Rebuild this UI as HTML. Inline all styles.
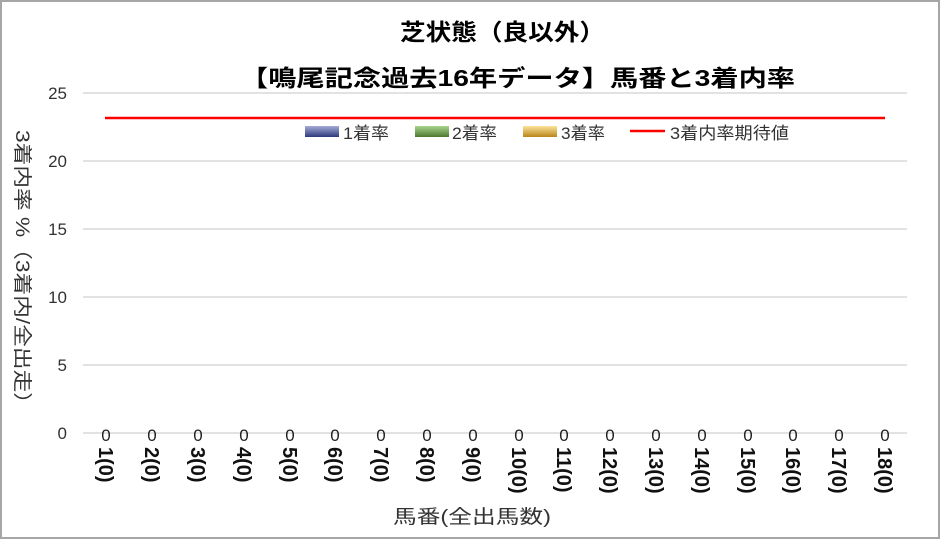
<!DOCTYPE html>
<html><head><meta charset="utf-8"><style>
body{margin:0;background:#fff}
svg{display:block;font-family:"Liberation Sans","Noto Sans CJK JP",sans-serif}
</style></head><body>
<svg width="940" height="539" viewBox="0 0 940 539">
<defs>
<linearGradient id="g1" x1="0" y1="0" x2="0" y2="1"><stop offset="0" stop-color="#a5acd8"/><stop offset="1" stop-color="#2c3a7c"/></linearGradient>
<linearGradient id="g2" x1="0" y1="0" x2="0" y2="1"><stop offset="0" stop-color="#a9d48c"/><stop offset="1" stop-color="#4e7a30"/></linearGradient>
<linearGradient id="g3" x1="0" y1="0" x2="0" y2="1"><stop offset="0" stop-color="#fde39a"/><stop offset="1" stop-color="#b8861a"/></linearGradient>
</defs>
<rect x="1" y="1" width="938" height="537" fill="#fff" stroke="#a6a6a6" stroke-width="2"/>
<text x="400" y="40" font-size="23" font-weight="bold" textLength="205" lengthAdjust="spacingAndGlyphs">芝状態（良以外）</text>
<text x="240" y="86" font-size="23" font-weight="bold" textLength="555" lengthAdjust="spacingAndGlyphs">【鳴尾記念過去16年データ】馬番と3着内率</text>
<g stroke="#d9d9d9" stroke-width="1.5">
<line x1="83" y1="93" x2="907" y2="93"/><line x1="83" y1="161" x2="907" y2="161"/>
<line x1="83" y1="229" x2="907" y2="229"/><line x1="83" y1="297" x2="907" y2="297"/>
<line x1="83" y1="365" x2="907" y2="365"/><line x1="83" y1="433" x2="907" y2="433"/>
</g>
<g font-size="17" fill="#333" text-anchor="end">
<text x="67" y="99">25</text><text x="67" y="167">20</text><text x="67" y="235">15</text>
<text x="67" y="303">10</text><text x="67" y="371">5</text><text x="67" y="439">0</text>
</g>
<line x1="105" y1="118" x2="885" y2="118" stroke="#ff0000" stroke-width="2.5"/>
<rect x="305" y="126" width="34" height="11" fill="url(#g1)"/>
<text x="343" y="139" font-size="17" fill="#333" textLength="46" lengthAdjust="spacingAndGlyphs">1着率</text>
<rect x="415" y="126" width="34" height="11" fill="url(#g2)"/>
<text x="452" y="139" font-size="17" fill="#333" textLength="45" lengthAdjust="spacingAndGlyphs">2着率</text>
<rect x="523" y="126" width="34" height="11" fill="url(#g3)"/>
<text x="561" y="139" font-size="17" fill="#333" textLength="44" lengthAdjust="spacingAndGlyphs">3着率</text>
<line x1="630" y1="131" x2="665" y2="131" stroke="#ff0000" stroke-width="2.5"/>
<text x="670" y="139" font-size="17" fill="#333" textLength="119" lengthAdjust="spacingAndGlyphs">3着内率期待値</text>
<text transform="translate(16,130) rotate(90)" font-size="19" fill="#333" textLength="285" lengthAdjust="spacingAndGlyphs">3着内率 %（3着内/全出走）</text>
<g font-size="17" fill="#222" text-anchor="middle">
<text x="106" y="441">0</text><text x="152" y="441">0</text><text x="198" y="441">0</text><text x="244" y="441">0</text><text x="290" y="441">0</text><text x="335" y="441">0</text><text x="381" y="441">0</text><text x="427" y="441">0</text><text x="473" y="441">0</text><text x="519" y="441">0</text><text x="564" y="441">0</text><text x="610" y="441">0</text><text x="656" y="441">0</text><text x="702" y="441">0</text><text x="748" y="441">0</text><text x="793" y="441">0</text><text x="839" y="441">0</text><text x="885" y="441">0</text>
</g>
<g font-size="20" font-weight="bold" fill="#111">
<text transform="translate(99,447) rotate(90)">1(0)</text>
<text transform="translate(145,447) rotate(90)">2(0)</text>
<text transform="translate(191,447) rotate(90)">3(0)</text>
<text transform="translate(237,447) rotate(90)">4(0)</text>
<text transform="translate(283,447) rotate(90)">5(0)</text>
<text transform="translate(328,447) rotate(90)">6(0)</text>
<text transform="translate(374,447) rotate(90)">7(0)</text>
<text transform="translate(420,447) rotate(90)">8(0)</text>
<text transform="translate(466,447) rotate(90)">9(0)</text>
<text transform="translate(512,447) rotate(90)">10(0)</text>
<text transform="translate(557,447) rotate(90)">11(0)</text>
<text transform="translate(603,447) rotate(90)">12(0)</text>
<text transform="translate(649,447) rotate(90)">13(0)</text>
<text transform="translate(695,447) rotate(90)">14(0)</text>
<text transform="translate(741,447) rotate(90)">15(0)</text>
<text transform="translate(786,447) rotate(90)">16(0)</text>
<text transform="translate(832,447) rotate(90)">17(0)</text>
<text transform="translate(878,447) rotate(90)">18(0)</text>
</g>
<text x="393" y="523" font-size="19" fill="#333" textLength="158" lengthAdjust="spacingAndGlyphs">馬番(全出馬数)</text>
</svg>
</body></html>
